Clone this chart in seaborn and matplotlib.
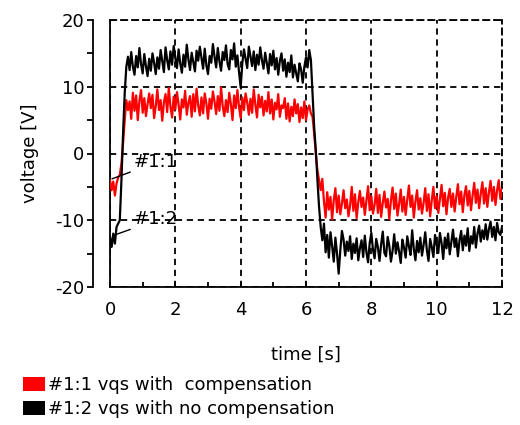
import numpy as np
import pandas as pd
import matplotlib
matplotlib.use("Agg")
import matplotlib.pyplot as plt
from matplotlib.patches import Patch
from matplotlib.ticker import MultipleLocator
import seaborn as sns

# ---- data (0.05 s sampling) ----
t_start, t_end = 0.0, 12.0

vqs_comp = [
    -4.0, -5.5, -4.2, -6.3, -4.5, -3.6, -3.2, -1.5, 1.5, 5.0, 8.0, 6.5,
    7.8, 5.2, 9.1, 6.4, 8.7, 5.0, 7.9, 9.5, 6.1, 8.3,
    5.6, 7.4, 9.0, 6.8, 8.8, 5.3, 7.1, 9.6, 6.5, 8.0,
    4.9, 7.7, 8.9, 6.2, 9.8, 7.0, 5.4, 8.5, 6.6, 9.2,
    7.3, 5.1, 8.1, 6.9, 9.4, 5.8, 7.6, 8.6, 5.5, 8.9,
    6.3, 9.7, 7.2, 5.7, 8.4, 6.0, 9.0, 7.5, 5.2, 8.2,
    6.7, 9.3, 7.8, 5.9, 8.6, 6.4, 9.9, 7.1, 5.6, 8.0,
    6.2, 9.1, 7.4, 5.0, 8.7, 6.8, 9.5, 7.0, 5.3, 8.4,
    6.5, 9.0, 7.7, 5.8, 8.2, 6.1, 9.6, 7.3, 5.4, 8.8,
    6.9, 8.5, 5.7, 7.9, 6.3, 9.2, 6.0, 8.1, 5.1, 7.6,
    6.6, 8.9, 5.5, 7.2, 6.8, 8.3, 5.2, 7.5, 4.8, 7.0,
    5.6, 8.1, 6.0, 7.4, 4.7, 6.9, 5.3, 7.8, 5.0, 6.6, 7.2,
    6.0, 5.5, 3.0, 0.0, -2.5, -4.0, -5.5, -3.8,
    -7.2, -9.6, -5.8, -8.4, -6.5, -9.9, -7.0, -5.2, -8.8, -6.3,
    -9.1, -7.5, -5.5, -8.2, -6.9, -9.4, -7.8, -5.0, -8.6, -6.1,
    -9.7, -7.3, -5.6, -8.0, -6.6, -9.2, -7.1, -4.9, -8.5, -6.4,
    -9.0, -7.7, -5.3, -8.9, -6.2, -9.5, -7.4, -5.7, -8.1, -6.8,
    -9.8, -7.0, -5.1, -8.3, -6.0, -9.3, -7.6, -5.4, -8.7, -6.5,
    -9.2, -6.9, -4.8, -8.0, -6.3, -9.6, -7.2, -5.5, -8.4, -6.7,
    -9.0, -7.4, -5.2, -8.6, -6.1, -9.4, -7.0, -5.0, -8.2, -6.4,
    -8.9, -6.8, -4.7, -7.9, -5.9, -9.1, -6.6, -5.3, -8.0, -6.0,
    -8.7, -6.5, -4.6, -7.6, -5.7, -8.8, -6.2, -4.9, -7.8, -5.6,
    -8.5, -6.3, -4.4, -7.4, -5.4, -8.2, -6.0, -4.3, -7.5, -5.2,
    -8.0, -5.8, -4.1, -7.1, -5.0, -7.7, -5.5, -4.0, -6.8, -5.3,
]

vqs_nocomp = [
    -12.5, -14.0, -12.0, -13.5, -11.0, -10.5, -10.0, -4.0, 3.0, 9.0, 13.0, 14.5,
    12.5, 15.2, 13.0, 11.8, 14.6, 12.9, 15.8, 13.4, 12.0, 14.9,
    13.1, 11.6, 14.2, 12.4, 15.0, 13.6, 11.9, 14.4, 12.7, 15.5,
    13.8, 12.2, 15.9, 14.0, 12.6, 15.3, 13.3, 16.1, 14.3, 12.8,
    15.6, 13.5, 12.1, 14.8, 13.0, 16.3, 14.1, 12.5, 15.1, 13.7,
    12.3, 15.4, 13.9, 16.0, 14.4, 12.7, 15.7, 13.2, 11.9, 14.6,
    13.6, 16.4, 14.5, 12.9, 15.8, 13.8, 12.4, 15.2, 14.0, 16.2,
    13.4, 12.6, 15.5, 14.1, 16.5, 13.0, 14.7, 12.2, 9.9, 13.5,
    15.6, 14.2, 12.8, 16.0, 14.5, 13.1, 15.3, 12.5, 14.8, 13.3,
    15.9, 14.0, 12.7, 15.1, 13.6, 12.0, 14.9, 13.2, 15.4, 12.6,
    14.3, 11.8, 13.9, 15.0, 12.4, 14.1, 11.5, 13.6, 12.2, 14.7,
    11.4, 13.3, 12.0, 10.8, 13.5, 12.6, 10.6, 13.0, 14.4, 12.9,
    15.5, 14.0, 9.0, 4.0, 0.5, -4.0, -8.0, -11.0, -13.0,
    -10.5, -14.8, -12.2, -15.6, -11.8, -13.9, -16.2, -12.6, -15.0, -18.0,
    -14.5, -11.6, -12.9, -15.3, -13.2, -14.6, -12.4, -15.8, -13.5, -14.9,
    -12.7, -16.0, -14.2, -13.0, -15.5, -12.3, -14.8, -16.3, -13.4, -11.9,
    -14.4, -15.7, -12.8, -14.0, -16.1, -13.6, -11.7, -14.9, -15.4, -12.5,
    -13.8, -16.2, -14.6, -12.1, -15.0, -13.3, -14.7, -16.4, -12.9, -14.1,
    -15.6, -12.4, -13.9, -15.2, -11.5, -14.3, -16.0, -13.1, -14.8, -12.6,
    -15.3, -13.7, -11.8, -14.5, -16.1, -12.8, -14.0, -15.5, -12.2, -13.6,
    -14.9, -11.9, -13.4, -15.8, -12.6, -14.2, -12.0, -15.1, -13.3, -11.4,
    -14.0, -12.7, -15.4, -13.0, -11.6, -14.5, -12.3, -13.8, -11.2, -14.6,
    -12.4, -13.5, -11.0, -14.1, -12.0, -10.8, -13.2, -11.5, -12.8, -10.6,
    -12.9, -11.3, -10.2, -12.5, -11.0, -13.0, -10.4, -11.8, -12.2, -11.0,
]

series_labels = ["#1:1 vqs with  compensation", "#1:2 vqs with no compensation"]
series_tags = ["#1:1", "#1:2"]
series_colors = ["#ff0000", "#000000"]
x_ticks = [0, 2, 4, 6, 8, 10, 12]
y_ticks = [-20, -10, 0, 10, 20]
x_label = "time [s]"
y_label = "voltage [V]"

time = np.linspace(t_start, t_end, len(vqs_comp))

# ---- style ----
sns.set_style("white")
plt.rcParams["font.family"] = ["DejaVu Sans"]
plt.rcParams["font.size"] = 13
plt.rcParams["lines.scale_dashes"] = False
plt.rcParams["axes.unicode_minus"] = False
plt.rcParams["text.color"] = "black"
plt.rcParams["axes.labelcolor"] = "black"
plt.rcParams["xtick.color"] = "black"
plt.rcParams["ytick.color"] = "black"

W, H = 520, 425
fig = plt.figure(figsize=(W / 100, H / 100), dpi=100)
ax = fig.add_axes([110 / W, 1 - 287 / H, 392 / W, 267 / H])

dash = (0, (4.5, 3.4))

for vals, col in [(vqs_comp, series_colors[0]), (vqs_nocomp, series_colors[1])]:
    df = pd.DataFrame({"t": time, "v": vals})
    sns.lineplot(data=df, x="t", y="v", color=col, lw=1.6, ax=ax, zorder=3)

ax.set_xlim(0, 12)
ax.set_ylim(-20, 20)
ax.set_xticks(x_ticks)
ax.set_yticks(y_ticks)
ax.xaxis.set_minor_locator(MultipleLocator(1))
ax.yaxis.set_minor_locator(MultipleLocator(5))

ax.grid(True, which="major", color="black", lw=1.3, linestyle=dash)
ax.set_axisbelow(True)

for s in ["top", "right"]:
    ax.spines[s].set_linestyle(dash)
    ax.spines[s].set_linewidth(1.3)
    ax.spines[s].set_color("black")
for s in ["left", "bottom"]:
    ax.spines[s].set_linewidth(1.3)
    ax.spines[s].set_color("black")
ax.spines["left"].set_position(("outward", 12))
ax.axvline(0, color="black", lw=1.3, clip_on=False, zorder=2)

ax.tick_params(axis="y", which="both", direction="out", length=4.3, width=1.3,
               pad=2, labelsize=13, left=True)
ax.tick_params(axis="x", which="both", direction="in", length=3.5, width=1.3,
               pad=10, labelsize=13, bottom=True)

ax.set_xlabel(x_label, fontsize=13, labelpad=19)
ax.set_ylabel(y_label, fontsize=13, labelpad=12)

# tags with leader lines
ax.annotate(series_tags[0], xy=(0.06, -3.8), xytext=(0.72, -2.0),
            fontsize=13, va="baseline", ha="left",
            arrowprops=dict(arrowstyle="-", color="black", lw=1.0,
                            relpos=(0, 0), shrinkA=0, shrinkB=0))
ax.annotate(series_tags[1], xy=(0.09, -12.3), xytext=(0.72, -10.6),
            fontsize=13, va="baseline", ha="left",
            arrowprops=dict(arrowstyle="-", color="black", lw=1.0,
                            relpos=(0, 0), shrinkA=0, shrinkB=0))

handles = [Patch(facecolor=c, edgecolor="none") for c in series_colors]
fig.legend(handles, series_labels, loc="upper left",
           bbox_to_anchor=(23 / W, 1 - 376 / H), frameon=False,
           fontsize=13, borderpad=0, borderaxespad=0,
           handlelength=1.22, handleheight=0.85, handletextpad=0.17,
           labelspacing=0.35)

fig.savefig("out.png", dpi=100)
